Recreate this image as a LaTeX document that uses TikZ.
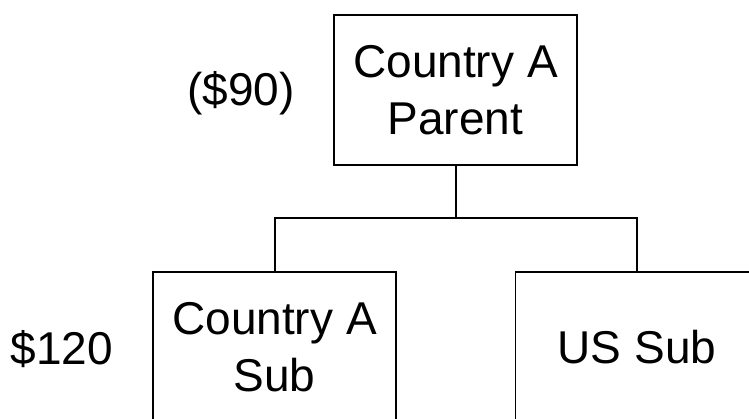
\documentclass[tikz,border=0pt]{standalone}
\usepackage{fontspec}
\setmainfont{Liberation Sans}
\usetikzlibrary{positioning}

\tikzset{
    entity/.style={draw, line width=0.75pt, minimum width=121.5pt, minimum height=75pt,
        align=center, inner sep=0pt, font=\fontsize{23pt}{28.5pt}\selectfont},
    amount/.style={font=\fontsize{23pt}{28.5pt}\selectfont, inner sep=0pt},
    link/.style={line width=1pt}
}

\begin{document}
\begin{tikzpicture}[x=0.5pt,y=0.5pt]
    \useasboundingbox (0,0) rectangle (749,418);
    \clip (0,0) rectangle (749,418);

    % Ownership boxes
    \node[entity] (parent) at (455.5,328) {Country A\\Parent};
    \node[entity] (subA) at (274.5,71) {Country A\\Sub};
    \node[entity] (subUS) at (637,71) {US Sub};

    % Tree connector
    \coordinate (bar) at (455.5,200);
    \draw[link] (parent.south) -- (bar);
    \draw[link] (subA.north) |- (bar) -| (subUS.north);

    % Amounts
    \node[amount] (lossA) at (241,325) {(\$90)};
    \node[amount] (gainA) at (62,69) {\$120};
\end{tikzpicture}
\end{document}
